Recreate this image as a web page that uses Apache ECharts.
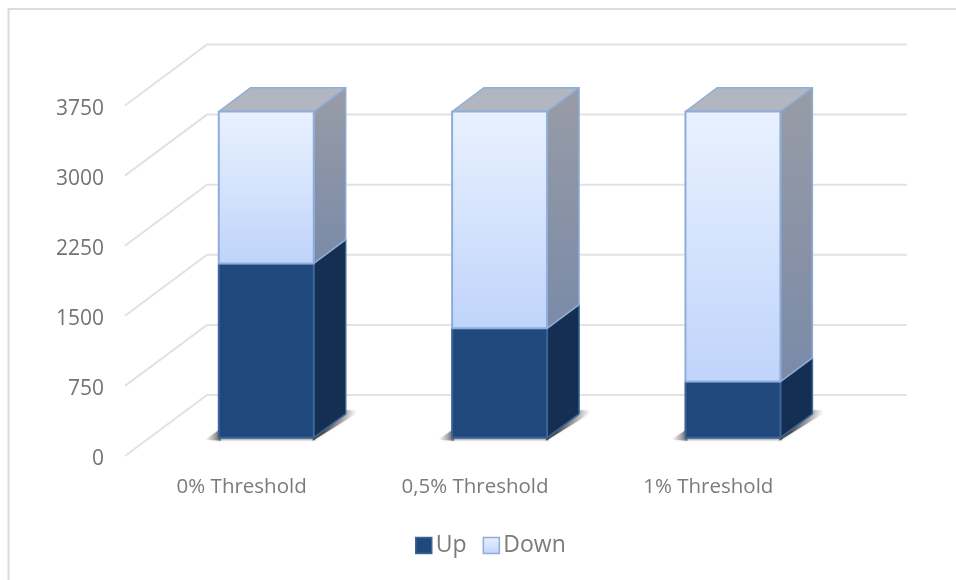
<!DOCTYPE html>
<html>
<head>
<meta charset="utf-8">
<style>html,body{margin:0;padding:0;background:#fff}#chart{width:956px;height:580px}</style>
<script src="https://cdn.jsdelivr.net/npm/echarts@6/dist/echarts.min.js"></script>
</head>
<body>
<div id="chart"></div>
<script>
// Threshold comparison drawn as stacked pseudo-3D columns.
const categories = ['0% Threshold', '0,5% Threshold', '1% Threshold'];
const upValues = [1865, 1170, 600];
const downValues = [1625, 2320, 2890];
const yTicks = [0, 750, 1500, 2250, 3000, 3750];

// Oblique projection: the floor recedes by this vector from front to back wall.
const WALL_DX = 82, WALL_DY = -61;
const BAR_OFFSET = 0.30;   // front of the column, as a share of floor depth
const BAR_DEPTH = 0.39;    // depth of the column, as a share of floor depth
const BAR_SHARE = 0.407;   // column width, as a share of a category band

const vGrad = (a, b) => ({type: 'linear', x: 0, y: 0, x2: 0, y2: 1, colorStops: [{offset: 0, color: a}, {offset: 1, color: b}]});

const FONT = '"Open Sans", sans-serif';
const TEXT_X = '#7b7b7b';
const TEXT_Y = '#737373';

// Back-wall rules: front edge, slant to the back wall, then across the wall.
function renderRule(params, api) {
  const sys = params.coordSys;
  const p = api.coord([0, api.value(0)]);
  const y = p[1];
  return {
    type: 'polyline',
    shape: {points: [[sys.x, y], [sys.x + WALL_DX, y + WALL_DY], [sys.x + sys.width + WALL_DX, y + WALL_DY]]},
    style: {stroke: '#e2e2e2', lineWidth: 2, fill: null},
    silent: true
  };
}

function columnGeometry(api) {
  const band = api.size([1, 0])[0];
  const w = band * BAR_SHARE;
  const cx = api.coord([api.value(0), 0])[0];
  const ox = WALL_DX * BAR_OFFSET, oy = WALL_DY * BAR_OFFSET;
  const dx = WALL_DX * BAR_DEPTH, dy = WALL_DY * BAR_DEPTH;
  const left = cx - w / 2 + ox, right = cx + w / 2 + ox;
  const base = api.coord([api.value(0), api.value(1)])[1] + oy;
  const top = api.coord([api.value(0), api.value(2)])[1] + oy;
  return {left, right, base, top, dx, dy};
}

function poly(points, fill, stroke, width) {
  return {type: 'polygon', shape: {points}, style: {fill, stroke, lineWidth: width, lineJoin: 'round'}};
}

// Contact shadow on the floor: a fade to the left, a thin line below, a wedge to the right.
function floorShadow(g) {
  const mx = g.right + g.dx / 2, my = g.base + g.dy / 2;
  return [
    {type: 'polygon', shape: {points: [[g.left - 14, g.base + 2], [g.left + 2, g.base + 3], [g.left + 2, g.base - 9]]},
      style: {fill: {type: 'linear', x: 0, y: 0, x2: 1, y2: 0, colorStops: [
        {offset: 0, color: 'rgba(110,110,110,0)'}, {offset: 0.6, color: 'rgba(90,90,90,0.45)'}, {offset: 1, color: 'rgba(60,60,60,0.8)'}]},
        shadowBlur: 3, shadowColor: 'rgba(120,120,120,0.4)'}},
    {type: 'polygon', shape: {points: [[g.left, g.base], [g.right + 2, g.base], [g.right + 2, g.base + 4], [g.left, g.base + 4]]},
      style: {fill: {type: 'linear', x: 0, y: 0, x2: 0, y2: 1, colorStops: [
        {offset: 0, color: 'rgba(80,80,80,0.7)'}, {offset: 1, color: 'rgba(120,120,120,0)'}]}}},
    {type: 'polygon', shape: {points: [[g.right - 1, g.base + 3], [g.right + g.dx + 15, g.base + g.dy - 3], [g.right + g.dx, g.base + g.dy - 4], [g.right - 1, g.base - 4]]},
      style: {fill: {type: 'linear', global: true, x: mx - 4, y: my, x2: mx + 20, y2: my + 8, colorStops: [
        {offset: 0, color: 'rgba(50,50,50,0.85)'}, {offset: 0.55, color: 'rgba(100,100,100,0.5)'}, {offset: 1, color: 'rgba(150,150,150,0)'}]},
        shadowBlur: 3, shadowColor: 'rgba(120,120,120,0.35)'}}
  ];
}

function renderUp(params, api) {
  const g = columnGeometry(api);
  const stroke = '#3c6497';
  const kids = floorShadow(g).concat([
    poly([[g.right, g.base], [g.right + g.dx, g.base + g.dy], [g.right + g.dx, g.top + g.dy], [g.right, g.top]], '#142f52', stroke, 1.5),
    poly([[g.left, g.base], [g.right, g.base], [g.right, g.top], [g.left, g.top]], '#1f497d', stroke, 2)
  ]);
  return {type: 'group', children: kids};
}

function renderDown(params, api) {
  const g = columnGeometry(api);
  const stroke = '#8fadd9';
  const kids = [
    poly([[g.right, g.base], [g.right + g.dx, g.base + g.dy], [g.right + g.dx, g.top + g.dy], [g.right, g.top]],
      vGrad('#989ca6', '#7a8aa8'), stroke, 1.5),
    poly([[g.left, g.top], [g.right, g.top], [g.right + g.dx, g.top + g.dy], [g.left + g.dx, g.top + g.dy]],
      '#b1b6c1', stroke, 1.5),
    poly([[g.left, g.base], [g.right, g.base], [g.right, g.top], [g.left, g.top]],
      vGrad('#e9f1fe', '#bfd4fb'), stroke, 2)
  ];
  return {type: 'group', children: kids};
}

const upData = categories.map((c, i) => [i, 0, upValues[i]]);
const downData = categories.map((c, i) => [i, upValues[i], upValues[i] + downValues[i]]);

const chart = echarts.init(document.getElementById('chart'), null, {renderer: 'canvas'});
chart.setOption({
  animation: false,
  backgroundColor: '#ffffff',
  graphic: [{
    type: 'polyline', silent: true,
    shape: {points: [[8.5, 580], [8.5, 9], [956, 9]]},
    style: {stroke: '#dcdcdc', lineWidth: 2, fill: null}
  }],
  grid: {left: 125, right: 131, top: 105.5, bottom: 124},
  xAxis: {
    type: 'category',
    data: categories,
    axisLine: {show: false},
    axisTick: {show: false},
    axisLabel: {color: TEXT_X, fontFamily: FONT, fontSize: 20.5, margin: 21}
  },
  yAxis: {
    type: 'value',
    min: 0, max: 3750, interval: 750,
    axisLine: {show: false},
    axisTick: {show: false},
    splitLine: {show: false},
    axisLabel: {color: TEXT_Y, fontFamily: FONT, fontSize: 21, margin: 21, verticalAlign: 'top', lineHeight: 7, formatter: v => String(v)}
  },
  legend: {
    left: 410, top: 529,
    itemWidth: 16, itemHeight: 16, itemGap: 16,
    icon: 'rect',
    textStyle: {color: TEXT_X, fontFamily: FONT, fontSize: 23, padding: [3, 0, 0, -1]},
    data: [
      {name: 'Up', itemStyle: {color: '#1f497d', borderColor: '#3c6497', borderWidth: 1.5}},
      {name: 'Down', itemStyle: {color: vGrad('#e9f1fe', '#bfd4fb'), borderColor: '#8fadd9', borderWidth: 1.5}}
    ]
  },
  series: [
    {type: 'custom', name: 'Rules', coordinateSystem: 'cartesian2d', renderItem: renderRule,
      data: yTicks.map(t => [t]), encode: {y: 0}, z: 1, clip: false, silent: true},
    {type: 'custom', name: 'Up', coordinateSystem: 'cartesian2d', renderItem: renderUp,
      data: upData, encode: {x: 0, y: [1, 2]}, itemStyle: {color: '#1f497d'}, z: 3, clip: false},
    {type: 'custom', name: 'Down', coordinateSystem: 'cartesian2d', renderItem: renderDown,
      data: downData, encode: {x: 0, y: [1, 2]}, itemStyle: {color: '#bfd4fb'}, z: 4, clip: false}
  ]
});
</script>
</body>
</html>
